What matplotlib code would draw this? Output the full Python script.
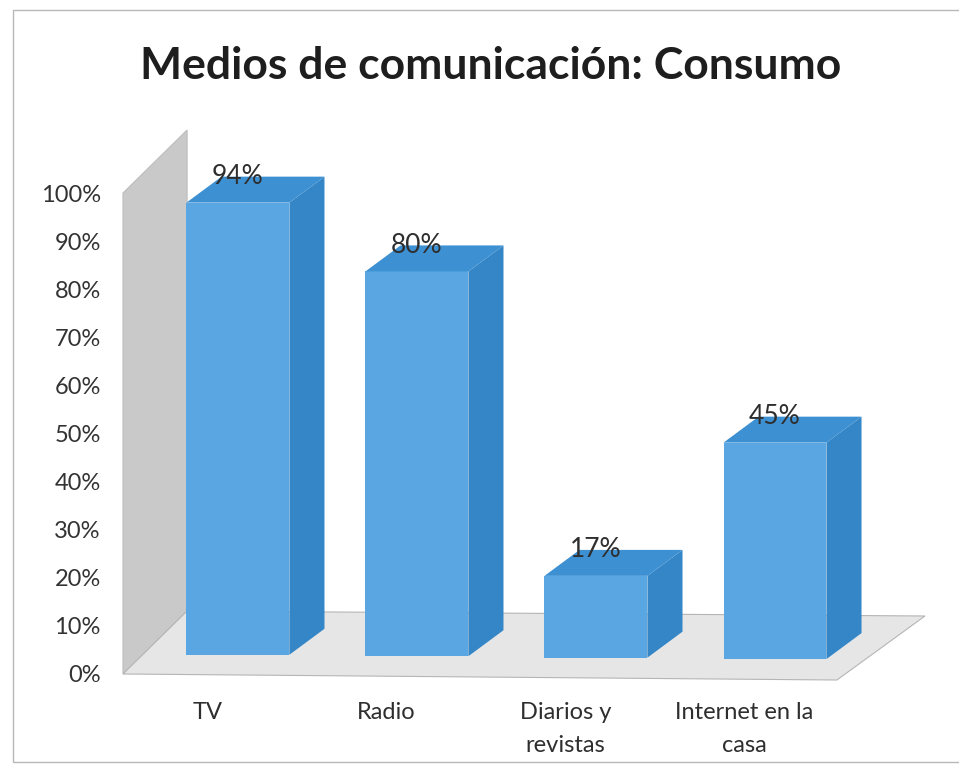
import matplotlib
matplotlib.use("Agg")
import matplotlib.pyplot as plt
from matplotlib.patches import Polygon, Rectangle

categories = ["TV", "Radio", "Diarios y\nrevistas", "Internet en la\ncasa"]
values = [94, 80, 17, 45]
value_labels = ["94%", "80%", "17%", "45%"]
yticks = [0, 10, 20, 30, 40, 50, 60, 70, 80, 90, 100]
ytick_labels = [f"{t}%" for t in yticks]
title = "Medios de comunicación: Consumo"

plt.rcParams['font.family'] = ['Lato', 'DejaVu Sans']

fig = plt.figure(figsize=(9.59, 7.64), dpi=100)
fig.patch.set_facecolor("white")

# chart frame
fig.patches.append(Rectangle((13/959, 2/764), 1.0, 752/764, transform=fig.transFigure,
                             fill=False, edgecolor="#b8b8b8", linewidth=1.0))

ax = fig.add_axes([123/959, 90/764, 807/959, 481/764])
ax.set_xlim(-0.642, 3.866)
ax.set_ylim(0, 100)
for s in ax.spines.values():
    s.set_visible(False)
ax.set_xticks([])
ax.set_yticks(yticks)
ax.set_yticklabels(ytick_labels, fontsize=17, color="#333333")
ax.tick_params(axis="y", length=0, pad=16)
ax.patch.set_alpha(0)

x0 = -0.642
wall_dx, wall_dy = 0.358, 13.1
# back/side wall
ax.add_patch(Polygon([(x0, 0), (x0 + wall_dx, wall_dy), (x0 + wall_dx, 100 + wall_dy), (x0, 100)],
                     closed=True, facecolor="#c9c9c9", edgecolor="#bdbdbd", lw=0.8, clip_on=False, zorder=1))
# floor
ax.add_patch(Polygon([(x0, 0), (3.346, -1.25), (3.838, 12.06), (x0 + wall_dx, wall_dy)],
                     closed=True, facecolor="#e6e6e6", edgecolor="#b5b5b5", lw=0.8, clip_on=False, zorder=1))

width = 0.575
dx, dy = 0.196, 5.4
front_c = "#5aa6e2"
top_c = "#3d90d2"
side_c = "#3586c6"
for i, v in enumerate(values):
    base = 4.0 - 0.3 * i
    left = i - width / 2
    right = i + width / 2
    top = base + v
    ax.bar(i, v, width=width, bottom=base, color=front_c, zorder=3, clip_on=False)
    ax.add_patch(Polygon([(right, base), (right + dx, base + dy), (right + dx, top + dy), (right, top)],
                         closed=True, facecolor=side_c, edgecolor="none", zorder=3, clip_on=False))
    ax.add_patch(Polygon([(left, top), (left + dx, top + dy), (right + dx, top + dy), (right, top)],
                         closed=True, facecolor=top_c, edgecolor="none", zorder=3, clip_on=False))
    ax.text(i, top + dy, value_labels[i], ha="center", va="center", fontsize=19,
            color="#2e2e2e", zorder=5, clip_on=False)
    ax.text(i - 0.17, -5.8, categories[i], ha="center", va="top", fontsize=17,
            color="#2e2e2e", linespacing=1.7, clip_on=False)

fig.text(491/959, 1 - 66/764, title, ha="center", va="center", fontsize=32,
         fontweight="bold", color="#1e1e1e")

fig.savefig("out.png", dpi=100)
